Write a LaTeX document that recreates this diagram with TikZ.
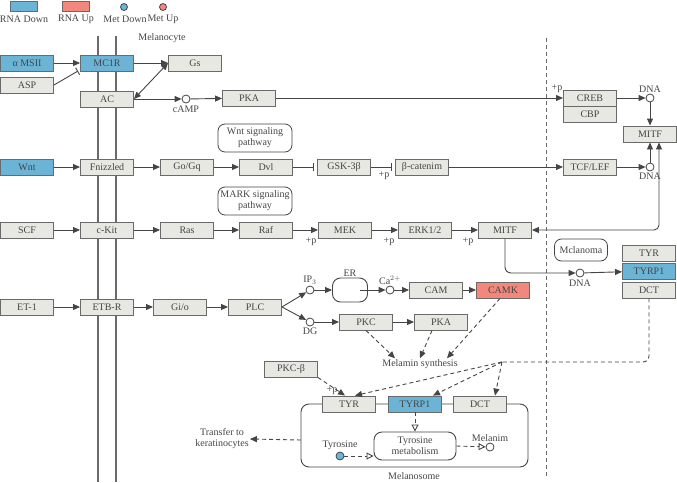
\documentclass[tikz,border=0pt]{standalone}
\usepackage{fontspec}
\setmainfont{Liberation Serif}
\usetikzlibrary{arrows.meta,calc,positioning,shapes.geometric}
\definecolor{Ink}{HTML}{454545}
\definecolor{Edge}{HTML}{6A6A6A}
\definecolor{BoxFill}{HTML}{E8E8E2}
\definecolor{Down}{HTML}{6CB4D6}
\definecolor{Up}{HTML}{F4877C}
\newcommand{\kfont}{\fontsize{10}{11}\selectfont}
\tikzset{gene/.style={draw=Edge,fill=BoxFill,line width=.9pt,minimum width=53pt,minimum height=16pt,inner sep=0pt,text=Ink,font=\kfont},down/.style={gene,fill=Down},up/.style={gene,fill=Up},pathway/.style={draw=Ink,line width=.8pt,rounded corners=7pt,minimum width=74pt,minimum height=28pt,align=center,inner sep=0pt,text=Ink,font=\kfont},cpd/.style={circle,draw=Ink,fill=white,line width=.8pt,minimum size=8pt,inner sep=0pt},lbl/.style={text=Ink,font=\kfont,inner sep=1pt,align=center},act/.style={-{Triangle[length=7pt,width=6pt]},draw=Ink,line width=.9pt},inh/.style={-{Bar[width=8pt]},draw=Ink,line width=.9pt,shorten >=3pt},ind/.style={act,dash pattern=on 4pt off 3pt},indo/.style={-{Triangle[open,length=7pt,width=7pt]},draw=Ink,line width=.9pt,dash pattern=on 4pt off 3pt},memb/.style={draw=Edge,line width=1.1pt}}
\begin{document}
\begin{tikzpicture}[x=1pt,y=-1pt]
  \useasboundingbox (0,0) rectangle (677,482);
  % legend
  \node[down,minimum width=27pt,minimum height=10pt] (lgRD) at (23.5,6) {};
  \node[up,minimum width=27pt,minimum height=10pt] (lgRU) at (76,6) {};
  \node[cpd,fill=Down,minimum size=7pt] (lgMD) at (124,7) {};
  \node[cpd,fill=Up,minimum size=7pt] (lgMU) at (163,7) {};
  \node[lbl] at (24,19) {RNA Down};
  \node[lbl] at (76,19) {RNA Up};
  \node[lbl] at (125,19) {Met Down};
  \node[lbl] at (163,19) {Met Up};
  \node[lbl] (cell) at (162,38) {Melanocyte};
  % membrane and nucleus
  \draw[memb] (98,36) -- (98,482) (116,36) -- (116,482);
  \draw[Edge,line width=.9pt,dash pattern=on 4pt off 3pt] (546,38) -- (546,478);
  % MC1R row
  \node[down] (msh) at (27,63) {α MSII};
  \node[gene] (asp) at (27,85) {ASP};
  \node[down] (mc1r) at (107,63) {MC1R};
  \node[gene] (gs) at (195,63) {Gs};
  \node[gene] (ac) at (107,99) {AC};
  \node[cpd] (camp) at (186,99) {};
  \node[lbl,below=1pt of camp] {cAMP};
  \node[gene] (pka) at (249,98) {PKA};
  \node[gene] (creb) at (590,98) {CREB};
  \node[gene] (cbp) at (590,114) {CBP};
  \node[cpd] (dna1) at (650,98) {};
  \node[lbl,above=0pt of dna1] {DNA};
  \node[gene] (mitf2) at (650,134) {MITF};
  \node[lbl] at (557,89) {+p};
  \coordinate (aspend) at (78,71);
  \draw[act] (msh) -- (mc1r);
  \draw[-{Bar[width=8pt]},draw=Ink,line width=.9pt] (asp.east) -- (aspend);
  \draw[act] (mc1r) -- (gs);
  \draw[{Triangle[length=7pt,width=6pt]}-{Triangle[length=7pt,width=6pt]},draw=Ink,line width=.9pt] (gs.west) -- (ac.east);
  \draw[act] (ac) -- (camp);
  \draw[act] (camp) -- (pka);
  \draw[act] (pka) -- (creb);
  \draw[act] (creb) -- (dna1);
  \draw[act] (dna1) -- (mitf2);
  % Wnt row
  \node[pathway] (wntp) at (255,138) {Wnt signaling\\pathway};
  \node[down] (wnt) at (27,167) {Wnt};
  \node[gene] (fzd) at (107,167) {Fnizzled};
  \node[gene] (gq) at (187,167) {Go/Gq};
  \node[gene] (dvl) at (266,167) {Dvl};
  \node[gene] (gsk) at (344,167) {GSK-3β};
  \node[gene] (bcat) at (422,167) {β-catenim};
  \node[gene] (tcf) at (590,167) {TCF/LEF};
  \node[cpd] (dna2) at (650,167) {};
  \node[lbl,below=0pt of dna2] {DNA};
  \node[lbl] at (384,176) {+p};
  \draw[act] (wnt) -- (fzd);
  \draw[act] (fzd) -- (gq);
  \draw[act] (gq) -- (dvl);
  \draw[inh] (dvl) -- (gsk);
  \draw[inh] (gsk) -- (bcat);
  \draw[act] (bcat) -- (tcf);
  \draw[act] (tcf) -- (dna2);
  \draw[act] (dna2) -- (dna2 |- mitf2.south);
  % KIT row
  \node[pathway] (mapk) at (255,201) {MARK signaling\\pathway};
  \node[gene] (scf) at (27,230) {SCF};
  \node[gene] (kit) at (107,230) {c-Kit};
  \node[gene] (ras) at (187,230) {Ras};
  \node[gene] (raf) at (266,230) {Raf};
  \node[gene] (mek) at (345,230) {MEK};
  \node[gene] (erk) at (425,230) {ERK1/2};
  \node[gene] (mitf) at (505,230) {MITF};
  \node[lbl] at (311,242) {+p};
  \node[lbl] at (389,242) {+p};
  \node[lbl] at (468,242) {+p};
  \draw[act] (scf) -- (kit);
  \draw[act] (kit) -- (ras);
  \draw[act] (ras) -- (raf);
  \draw[act] (raf) -- (mek);
  \draw[act] (mek) -- (erk);
  \draw[act] (erk) -- (mitf);
  \coordinate (mbend) at (659,230);
  \draw[{Triangle[length=7pt,width=6pt]}-{Triangle[length=7pt,width=6pt]},draw=Ink,line width=.9pt,rounded corners=5pt] (mitf.east) -- (mbend) -- (mbend |- mitf2.south);
  % target genes
  \node[pathway,minimum width=53pt,minimum height=22pt] (mel) at (581,250) {Mclanoma};
  \node[gene] (tyr2) at (649,253) {TYR};
  \node[down] (trp2) at (649,271) {TYRP1};
  \node[gene] (dct2) at (649,290) {DCT};
  \node[cpd] (dna3) at (580,273) {};
  \node[lbl,below=1pt of dna3] {DNA};
  \draw[act,rounded corners=6pt] (mitf.south) |- (dna3);
  \draw[act] (dna3) -- (trp2);
  % ET-1 row
  \node[gene] (et1) at (27,307) {ET-1};
  \node[gene] (ednrb) at (107,307) {ETB-R};
  \node[gene] (gio) at (180,307) {Gi/o};
  \node[gene] (plc) at (255,307) {PLC};
  \node[cpd] (ip3) at (310,290) {};
  \node[lbl,above=0pt of ip3] {IP$_3$};
  \node[cpd] (dg) at (310,322) {};
  \node[lbl,below=0pt of dg] {DG};
  \node[draw=Ink,line width=.9pt,rounded corners=8pt,minimum width=35pt,minimum height=24pt] (er) at (350,290) {};
  \node[lbl] at (350,273) {ER};
  \node[cpd] (ca) at (390,290) {};
  \node[lbl,above=0pt of ca] {Ca$^{2+}$};
  \node[gene] (cam) at (436,290) {CAM};
  \node[up] (camk) at (503,290) {CAMK};
  \node[gene] (pkc) at (366,322) {PKC};
  \node[gene] (pka2) at (441,322) {PKA};
  \node[lbl] (msyn) at (420,364) {Melamin synthesis};
  \draw[act] (et1) -- (ednrb);
  \draw[act] (ednrb) -- (gio);
  \draw[act] (gio) -- (plc);
  \draw[act] (plc.east) -- (ip3);
  \draw[act] (plc.east) -- (dg);
  \draw[act] (ip3) -- (er);
  \draw[act] ([xshift=-8pt]er.east) -- (ca);
  \draw[act] (ca) -- (cam);
  \draw[act] (cam) -- (camk);
  \draw[act] (dg) -- (pkc);
  \draw[act] (pkc) -- (pka2);
  \draw[ind] (pkc.south) -- ([xshift=-25pt]msyn.north);
  \draw[ind] ([xshift=-9pt]pka2.south) -- (msyn.north);
  \draw[ind] ([xshift=-3pt]camk.south) -- ([xshift=27pt]msyn.north);
  % melanosome
  \node[gene] (pkcb) at (291,369) {PKC-β};
  \draw[draw=Ink,line width=.9pt,rounded corners=8pt] (301,404) rectangle (528,467);
  \coordinate (msome) at (301,440);
  \node[lbl] at (414,476) {Melanosome};
  \node[gene] (tyr3) at (349,404) {TYR};
  \node[down] (trp3) at (415,404) {TYRP1};
  \node[gene] (dct3) at (480,404) {DCT};
  \node[draw=Ink,fill=white,line width=.9pt,rounded corners=8pt,minimum width=82pt,minimum height=28pt,align=center,text=Ink,font=\kfont,inner sep=0pt] (metab) at (415,446) {Tyrosine\\metabolism};
  \node[cpd,fill=Down] (tyrc) at (340,456) {};
  \node[lbl,above=1pt of tyrc] {Tyrosine};
  \node[cpd] (melc) at (490,447) {};
  \node[lbl,above=0pt of melc] {Melanim};
  \node[lbl] (xfer) at (222,439) {Transfer to\\keratinocytes};
  \node[lbl] at (332,391) {+p};
  \coordinate (jn) at (502,362);
  \draw[ind] (pkcb.south east) -- ([xshift=-4pt]tyr3.north);
  \draw[dash pattern=on 4pt off 3pt,draw=Ink,line width=.9pt,rounded corners=6pt] (dct2.south) |- (jn);
  \draw[ind] (jn) -- ([xshift=6pt]tyr3.north);
  \draw[ind] (jn) -- ([xshift=18pt]trp3.north);
  \draw[ind] (jn) -- ([xshift=15pt]dct3.north);
  \draw[indo] (trp3.south) -- (metab.north);
  \draw[indo] (tyrc) -- (tyrc -| metab.west);
  \draw[indo] (metab.east) -- (melc);
  \draw[ind] (msome) -- (xfer.east);
\end{tikzpicture}
\end{document}
